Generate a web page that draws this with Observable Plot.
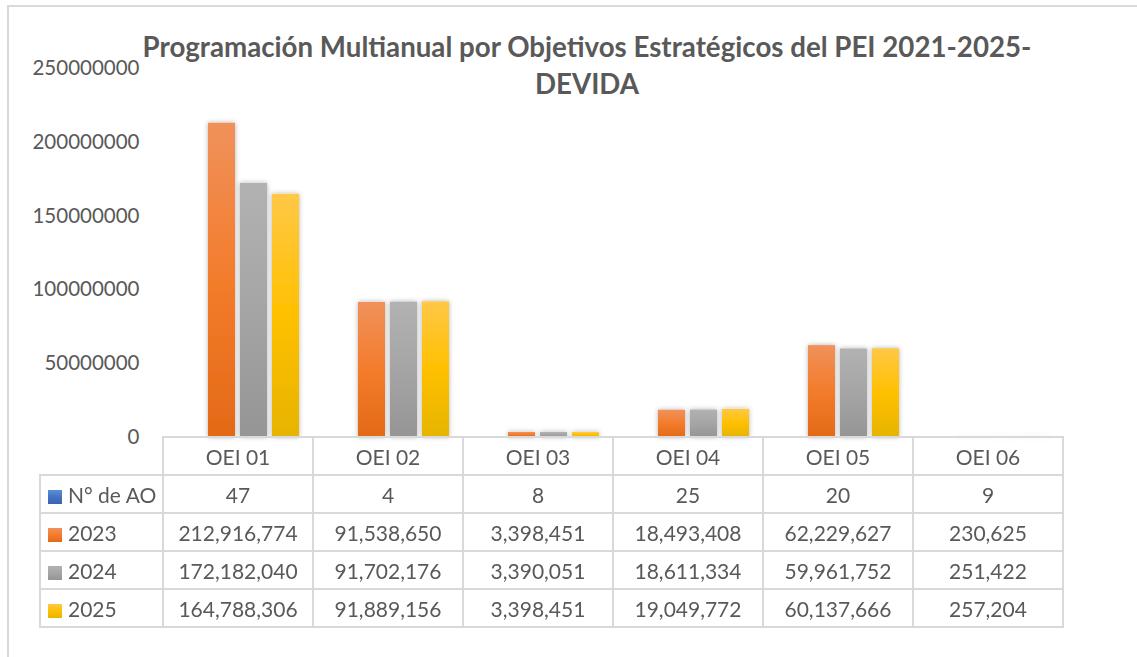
<!DOCTYPE html>
<html>
<head>
<meta charset="utf-8">
<script src="https://cdn.jsdelivr.net/npm/d3@7"></script>
<script src="https://cdn.jsdelivr.net/npm/@observablehq/plot@0.6"></script>
<style>
  html, body { margin: 0; padding: 0; background: #fff; overflow: hidden; }
  #wrap { position: relative; width: 1137px; height: 657px; overflow: hidden; font-family: Lato, "Open Sans", sans-serif; color: #595959; }
  #frame { position: absolute; left: 7px; top: 5px; width: 1200px; height: 700px; border: 2px solid #d9d9d9; box-sizing: border-box; }
  #title { position: absolute; left: 0; top: 28px; width: 1174px; text-align: center; font-weight: bold; font-size: 27.7px; line-height: 37px; color: #595959; }
  #chart { position: absolute; left: 0; top: 0; }
  table.dt { position: absolute; border-collapse: collapse; table-layout: fixed; font-size: 21px; color: #595959; }
  table.dt td { border: 2px solid #d9d9d9; height: 36px; padding: 0; text-align: center; white-space: nowrap; }
  table.dt td.blank { border: none; }
  table.dt td.lab { text-align: left; padding-left: 7px; }
  .sw { display: inline-block; width: 14px; height: 14px; margin-right: 6px; vertical-align: -1px; }
</style>
</head>
<body>
<svg width="0" height="0" style="position:absolute">
  <defs>
    <linearGradient id="gAO" x1="0" y1="0" x2="0" y2="1">
      <stop offset="0" stop-color="#5b8fd6"/><stop offset="0.5" stop-color="#4472c4"/><stop offset="1" stop-color="#3a64b0"/>
    </linearGradient>
    <linearGradient id="g2023" x1="0" y1="0" x2="0" y2="1">
      <stop offset="0" stop-color="#f0915b"/><stop offset="0.5" stop-color="#f37c2c"/><stop offset="1" stop-color="#e36a17"/>
    </linearGradient>
    <linearGradient id="g2024" x1="0" y1="0" x2="0" y2="1">
      <stop offset="0" stop-color="#b2b2b2"/><stop offset="0.5" stop-color="#a5a5a5"/><stop offset="1" stop-color="#959595"/>
    </linearGradient>
    <linearGradient id="g2025" x1="0" y1="0" x2="0" y2="1">
      <stop offset="0" stop-color="#ffc846"/><stop offset="0.5" stop-color="#ffc000"/><stop offset="1" stop-color="#e6b400"/>
    </linearGradient>
    <filter id="shadow" x="-30%" y="-10%" width="160%" height="120%">
      <feDropShadow dx="0" dy="0" stdDeviation="2.5" flood-color="#000" flood-opacity="0.3"/>
    </filter>
  </defs>
</svg>
<div id="wrap">
  <div id="frame"></div>
  <div id="chart"></div>
  <div id="title">Programación Multianual por Objetivos Estratégicos del PEI 2021-2025-<br>DEVIDA</div>
</div>
<script>
const categories = ["OEI 01", "OEI 02", "OEI 03", "OEI 04", "OEI 05", "OEI 06"];
const seriesNames = ["N° de AO", "2023", "2024", "2025"];
const numAO = [47, 4, 8, 25, 20, 9];
const v2023 = [212916774, 91538650, 3398451, 18493408, 62229627, 230625];
const v2024 = [172182040, 91702176, 3390051, 18611334, 59961752, 251422];
const v2025 = [164788306, 91889156, 3398451, 19049772, 60137666, 257204];
const yTicks = [0, 50000000, 100000000, 150000000, 200000000, 250000000];
const seriesFills = ["url(#gAO)", "url(#g2023)", "url(#g2024)", "url(#g2025)"];

const seriesValues = [numAO, v2023, v2024, v2025];
const rows = [];
categories.forEach((c, i) => {
  seriesNames.forEach((s, j) => rows.push({cat: c, series: s, value: seriesValues[j][i]}));
});

const W = 1137, H = 657;
const plot = Plot.plot({
  width: W, height: H,
  marginLeft: 162, marginRight: 75, marginTop: 68, marginBottom: 220,
  style: {fontFamily: "Lato, 'Open Sans', sans-serif", fontSize: "20.5px", color: "#595959", background: "transparent"},
  fx: {domain: categories, paddingInner: 25/150, paddingOuter: 12.5/150, axis: null, label: null},
  x: {domain: seriesNames, paddingInner: 0.17, paddingOuter: 0, axis: null},
  y: {domain: [0, 250000000], axis: null},
  color: {domain: seriesNames, range: seriesFills},
  marks: [
    Plot.barY(rows, {fx: "cat", x: "series", y: "value", fill: "series"}),
    Plot.axisY({ticks: yTicks, tickFormat: d => String(d), tickSize: 0, tickPadding: 36, label: null})
  ]
});
d3.select(plot).selectAll('g[aria-label="bar"]').attr("filter", "url(#shadow)");
document.getElementById("chart").appendChild(plot);

// data table aligned to the fx scale
const fx = plot.scale("fx");
const x0 = fx.range[0], x1 = fx.range[1];
const colW = (x1 - x0) / categories.length;
const y = plot.scale("y");
const tableTop = y.apply(0) - 1;
const tableLeft = 39;
const labW = x0 - tableLeft;

const table = document.createElement("table");
table.className = "dt";
table.style.left = tableLeft + "px";
table.style.top = tableTop + "px";
table.style.width = (x1 - tableLeft) + "px";
const cg = document.createElement("colgroup");
[labW, ...categories.map(() => colW)].forEach(w => {
  const col = document.createElement("col"); col.style.width = w + "px"; cg.appendChild(col);
});
table.appendChild(cg);
const head = table.insertRow();
const blank = head.insertCell(); blank.className = "blank";
categories.forEach(c => { head.insertCell().textContent = c; });
const fmt = d3.format(",");
const cssGrad = {
  "N° de AO": "linear-gradient(#5b8fd6,#4472c4,#3a64b0)",
  "2023": "linear-gradient(#f0915b,#f37c2c,#e36a17)",
  "2024": "linear-gradient(#b2b2b2,#a5a5a5,#959595)",
  "2025": "linear-gradient(#ffc846,#ffc000,#e6b400)"
};
seriesNames.forEach((s, j) => {
  const tr = table.insertRow();
  const lab = tr.insertCell(); lab.className = "lab";
  const sw = document.createElement("span"); sw.className = "sw"; sw.style.background = cssGrad[s];
  lab.appendChild(sw); lab.appendChild(document.createTextNode(s));
  seriesValues[j].forEach(v => { tr.insertCell().textContent = fmt(v); });
});
document.getElementById("wrap").appendChild(table);
</script>
</body>
</html>
